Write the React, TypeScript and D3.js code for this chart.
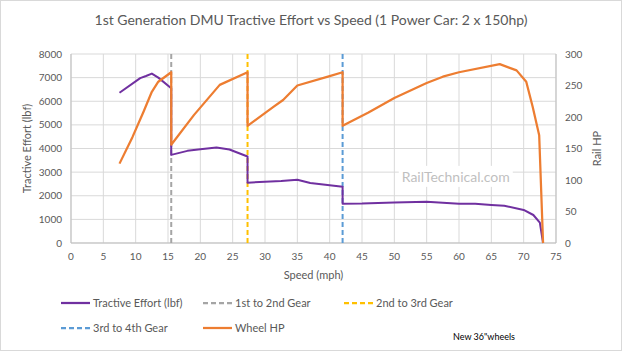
import { useEffect, useRef } from 'react'
import * as d3 from 'd3'

type Pt = { s: number; v: number }

// Tractive effort (lbf) vs speed (mph)
const tractiveEffort: Pt[] = [
  { s: 7.5, v: 6360 }, { s: 10.7, v: 6980 }, { s: 11.6, v: 7070 }, { s: 12.5, v: 7170 },
  { s: 13.5, v: 7000 }, { s: 15.5, v: 6550 },
  { s: 15.5, v: 3730 }, { s: 18, v: 3900 }, { s: 20, v: 3970 }, { s: 22.5, v: 4040 },
  { s: 24.5, v: 3960 }, { s: 27.3, v: 3660 },
  { s: 27.3, v: 2555 }, { s: 30, v: 2590 }, { s: 32.5, v: 2620 }, { s: 35, v: 2680 },
  { s: 37, v: 2540 }, { s: 42, v: 2385 },
  { s: 42, v: 1665 }, { s: 45, v: 1670 }, { s: 50, v: 1710 }, { s: 55, v: 1750 },
  { s: 60, v: 1665 }, { s: 62.5, v: 1660 }, { s: 65, v: 1610 }, { s: 67, v: 1580 },
  { s: 70, v: 1400 }, { s: 71.5, v: 1185 }, { s: 72.5, v: 860 }, { s: 73, v: 0 },
]

// Wheel horsepower vs speed (mph)
const wheelHp: Pt[] = [
  { s: 7.5, v: 126 }, { s: 9.5, v: 168 }, { s: 11.2, v: 208 }, { s: 12.5, v: 240 },
  { s: 13.5, v: 256 }, { s: 15.5, v: 271 },
  { s: 15.5, v: 156 }, { s: 19, v: 203 }, { s: 23, v: 251 }, { s: 27.3, v: 271 },
  { s: 27.3, v: 186 }, { s: 31.3, v: 216 }, { s: 32.8, v: 227 }, { s: 35, v: 250 },
  { s: 40, v: 265 }, { s: 42, v: 271 },
  { s: 42, v: 186 }, { s: 46, v: 207 }, { s: 50, v: 230 }, { s: 55, v: 254 },
  { s: 57.5, v: 264 }, { s: 60, v: 271 }, { s: 66.3, v: 284 }, { s: 68.9, v: 274 },
  { s: 70.4, v: 256 }, { s: 71.4, v: 216 }, { s: 72.4, v: 171 }, { s: 73, v: 0 },
]

const gearChanges = [
  { name: '1st to 2nd Gear', s: 15.5, color: '#a5a5a5' },
  { name: '2nd to 3rd Gear', s: 27.3, color: '#ffc000' },
  { name: '3rd to 4th Gear', s: 42, color: '#5b9bd5' },
]

const xTicks = d3.range(0, 80, 5)
const yTicks = d3.range(0, 9000, 1000)
const y2Ticks = d3.range(0, 350, 50)

const W = 622, H = 351
const FONT = 'Lato, "Open Sans", sans-serif'
const TXT = '#595959'

export default function App() {
  const ref = useRef<SVGSVGElement>(null)

  useEffect(() => {
    const svg = d3.select(ref.current)
    svg.selectAll('*').remove()

    const m = { top: 54, right: 66, bottom: 108, left: 71 }
    const iw = W - m.left - m.right
    const ih = H - m.top - m.bottom

    const x = d3.scaleLinear().domain([0, 75]).range([0, iw])
    const y = d3.scaleLinear().domain([0, 8000]).range([ih, 0])
    const y2 = d3.scaleLinear().domain([0, 300]).range([ih, 0])

    svg.append('rect').attr('x', 0.5).attr('y', 0.5).attr('width', W - 1).attr('height', H - 1)
      .attr('fill', '#fff').attr('stroke', '#d9d9d9')

    svg.append('text').attr('x', W / 2).attr('y', 25).attr('text-anchor', 'middle')
      .attr('fill', TXT).attr('font-size', 14).attr('font-family', FONT)
      .text('1st Generation  DMU Tractive Effort vs Speed  (1 Power Car: 2 x 150hp)')

    const g = svg.append('g').attr('transform', `translate(${m.left},${m.top})`)

    // grid
    g.append('g').selectAll('line').data(yTicks).join('line')
      .attr('x1', 0).attr('x2', iw).attr('y1', d => y(d)).attr('y2', d => y(d))
      .attr('stroke', '#d9d9d9')
    g.append('g').selectAll('line').data(xTicks).join('line')
      .attr('x1', d => x(d)).attr('x2', d => x(d)).attr('y1', 0).attr('y2', ih)
      .attr('stroke', '#d9d9d9')

    // axis lines
    g.append('line').attr('x1', 0).attr('x2', 0).attr('y1', 0).attr('y2', ih).attr('stroke', '#bfbfbf')
    g.append('line').attr('x1', iw).attr('x2', iw).attr('y1', 0).attr('y2', ih).attr('stroke', '#bfbfbf')
    g.append('line').attr('x1', 0).attr('x2', iw).attr('y1', ih).attr('y2', ih).attr('stroke', '#bfbfbf')

    // watermark
    const wmX = x(59.5), wmY = y(2800)
    g.append('rect').attr('x', wmX - 57).attr('y', wmY - 11).attr('width', 114).attr('height', 21).attr('fill', '#fff')
    g.append('text').attr('x', wmX).attr('y', wmY + 5).attr('text-anchor', 'middle')
      .attr('fill', '#bfbfbf').attr('font-size', 14).attr('font-family', FONT).text('RailTechnical.com')

    // tick labels
    g.append('g').selectAll('text').data(yTicks).join('text')
      .attr('x', -9).attr('y', d => y(d) + 3.5).attr('text-anchor', 'end')
      .attr('fill', TXT).attr('font-size', 10).attr('font-family', FONT).text(d => d)
    g.append('g').selectAll('text').data(y2Ticks).join('text')
      .attr('x', iw + 9).attr('y', d => y2(d) + 3.5).attr('text-anchor', 'start')
      .attr('fill', TXT).attr('font-size', 10).attr('font-family', FONT).text(d => d)
    g.append('g').selectAll('text').data(xTicks).join('text')
      .attr('x', d => x(d)).attr('y', ih + 17).attr('text-anchor', 'middle')
      .attr('fill', TXT).attr('font-size', 10).attr('font-family', FONT).text(d => d)

    // axis titles
    svg.append('text').attr('transform', `translate(31,${m.top + ih / 2}) rotate(-90)`)
      .attr('text-anchor', 'middle').attr('fill', TXT).attr('font-size', 11).attr('font-family', FONT)
      .text('Tractive Effort (lbf)')
    svg.append('text').attr('transform', `translate(601,${m.top + ih / 2}) rotate(-90)`)
      .attr('text-anchor', 'middle').attr('fill', TXT).attr('font-size', 11).attr('font-family', FONT)
      .text('Rail HP')
    svg.append('text').attr('x', m.left + iw / 2).attr('y', 279).attr('text-anchor', 'middle')
      .attr('fill', TXT).attr('font-size', 11).attr('font-family', FONT).text('Speed (mph)')

    // gear change lines
    gearChanges.forEach(gc => {
      g.append('line').attr('x1', x(gc.s)).attr('x2', x(gc.s)).attr('y1', 0).attr('y2', ih)
        .attr('stroke', gc.color).attr('stroke-width', 2).attr('stroke-dasharray', '5,3')
    })

    const teLine = d3.line<Pt>().x(d => x(d.s)).y(d => y(d.v))
    const hpLine = d3.line<Pt>().x(d => x(d.s)).y(d => y2(d.v))

    g.append('path').datum(tractiveEffort).attr('d', teLine)
      .attr('fill', 'none').attr('stroke', '#7030a0').attr('stroke-width', 2).attr('stroke-linejoin', 'round')
    g.append('path').datum(wheelHp).attr('d', hpLine)
      .attr('fill', 'none').attr('stroke', '#ed7d31').attr('stroke-width', 2.25).attr('stroke-linejoin', 'round')

    // legend
    const legend = [
      { name: 'Tractive Effort (lbf)', color: '#7030a0', dash: null, col: 0, row: 0 },
      { name: gearChanges[0].name, color: gearChanges[0].color, dash: '5,3', col: 1, row: 0 },
      { name: gearChanges[1].name, color: gearChanges[1].color, dash: '5,3', col: 2, row: 0 },
      { name: gearChanges[2].name, color: gearChanges[2].color, dash: '5,3', col: 0, row: 1 },
      { name: 'Wheel HP', color: '#ed7d31', dash: null, col: 1, row: 1 },
    ]
    const colX = [61, 203, 344]
    legend.forEach(l => {
      const lx = colX[l.col], ly = 303 + l.row * 25
      svg.append('line').attr('x1', lx).attr('x2', lx + 29).attr('y1', ly).attr('y2', ly)
        .attr('stroke', l.color).attr('stroke-width', 2.25).attr('stroke-dasharray', l.dash)
      svg.append('text').attr('x', lx + 32).attr('y', ly + 4).attr('fill', TXT)
        .attr('font-size', 11).attr('font-family', FONT).text(l.name)
    })

    svg.append('text').attr('x', 515).attr('y', 340).attr('text-anchor', 'end')
      .attr('fill', '#000').attr('font-size', 9).attr('font-family', FONT).text('New 36"wheels')
  }, [])

  return <svg ref={ref} width={W} height={H} style={{ display: 'block', position: 'absolute', left: 0, top: 0 }} />
}
